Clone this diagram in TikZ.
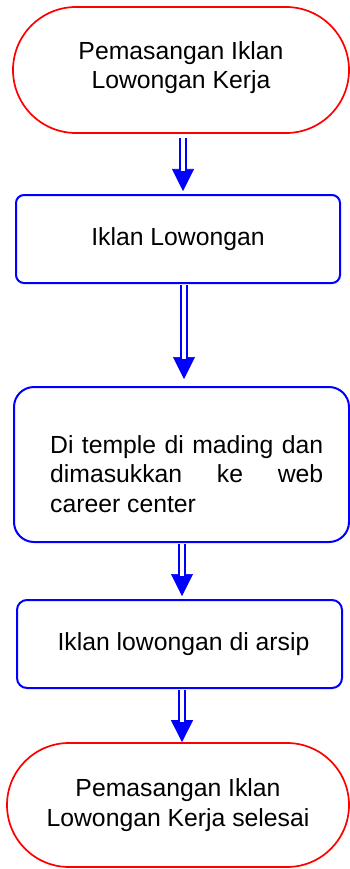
\documentclass[tikz,border=0pt]{standalone}
\usepackage{fontspec}
\setmainfont{Liberation Sans}
\usetikzlibrary{shapes.misc,arrows.meta}
\begin{document}
\begin{tikzpicture}[x=1pt,y=1pt,
  txtfont/.style={font=\fontsize{24.75}{29.7}\selectfont},
  term/.style={draw=red, line width=1.7pt, rounded rectangle, align=center, inner sep=0pt, txtfont},
  proc/.style={draw=blue, line width=2pt, align=center, inner sep=0pt, txtfont},
  flowtip/.style={draw=blue, line width=0.6pt, -{Triangle[length=22pt,width=22pt]}},
  flowline/.style={draw=blue, line width=1.8pt, double=white, double distance=3.6pt}
]
\useasboundingbox (0,0) rectangle (350,-869);
\fill[white] (0,0) rectangle (350,-869);

\node[term, minimum width=336pt, minimum height=126pt] (t1) at (181,-70)
  {Pemasangan Iklan\\Lowongan Kerja\\[-20pt]\mbox{}};
\node[proc, rounded corners=8pt, minimum width=324pt, minimum height=88pt] (b2) at (178,-239)
  {Iklan Lowongan};
\node[proc, rounded corners=20pt, minimum width=335pt, minimum height=155pt] (b3) at (181.5,-464.5) {};
\node[txtfont, align=left, anchor=west, inner sep=0pt] (b3t) at (50,-474)
  {\makebox[273pt][s]{Di temple di mading dan}\\
   \makebox[273pt][s]{dimasukkan ke web}\\
   career center};
\node[proc, rounded corners=10pt, minimum width=325pt, minimum height=88pt] (b4) at (179.5,-644) {};
\node[txtfont, inner sep=0pt] (b4t) at (183.5,-644) {Iklan lowongan di arsip};
\node[term, minimum width=342pt, minimum height=124pt] (t2) at (178,-805)
  {Pemasangan Iklan\\Lowongan Kerja selesai};

\coordinate (a1) at (183,0);
\coordinate (a2) at (184,0);
\coordinate (a3) at (182,0);
\coordinate (a4) at (182,0);

\draw[flowtip, shorten <=4pt, shorten >=3pt] (t1.south -| a1) -- (b2.north -| a1);
\draw[flowline, shorten <=4pt, shorten >=23pt] (t1.south -| a1) -- (b2.north -| a1);

\draw[flowtip, shorten <=1pt, shorten >=7pt] (b2.south -| a2) -- (b3.north -| a2);
\draw[flowline, shorten <=1pt, shorten >=27pt] (b2.south -| a2) -- (b3.north -| a2);

\draw[flowtip, shorten <=1pt, shorten >=3pt] (b3.south -| a3) -- (b4.north -| a3);
\draw[flowline, shorten <=1pt, shorten >=23pt] (b3.south -| a3) -- (b4.north -| a3);

\draw[flowtip, shorten <=1pt, shorten >=0pt] (b4.south -| a4) -- (t2.north -| a4);
\draw[flowline, shorten <=1pt, shorten >=20pt] (b4.south -| a4) -- (t2.north -| a4);
\end{tikzpicture}
\end{document}
